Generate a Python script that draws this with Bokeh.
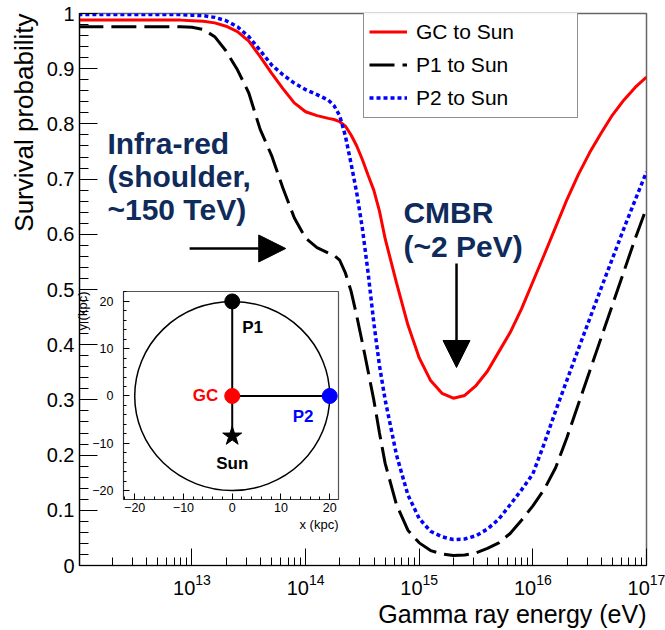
from bokeh.plotting import figure
from bokeh.layouts import column
from bokeh.models import (Range1d, FixedTicker, NumeralTickFormatter, Legend, LegendItem,
                          Arrow, NormalHead, Label, Title)
from bokeh.core.properties import value
from bokeh.embed import file_html
from bokeh.resources import INLINE

FONT = "Liberation Sans"
NAVY = "#0f2b5b"

# log10 of the gamma-ray energy (eV)
log_energy = [12.0, 12.5, 12.9, 13.0, 13.1, 13.2, 13.3, 13.4, 13.5, 13.6, 13.7, 13.8, 13.9,
              14.0, 14.1, 14.2, 14.25, 14.3, 14.35, 14.4, 14.45, 14.5, 14.55, 14.6, 14.65,
              14.7, 14.8, 14.9, 15.0, 15.1, 15.2, 15.3, 15.4, 15.5, 15.6, 15.7, 15.8, 15.9,
              16.0, 16.1, 16.2, 16.3, 16.4, 16.5, 16.6, 16.7, 16.8, 16.9, 17.0]

# survival probability along each line of sight
gc_to_sun = [0.988, 0.988, 0.988, 0.987, 0.986, 0.983, 0.977, 0.967, 0.950, 0.922, 0.892,
             0.864, 0.838, 0.822, 0.815, 0.810, 0.808, 0.804, 0.796, 0.780, 0.760, 0.735,
             0.707, 0.680, 0.642, 0.592, 0.512, 0.436, 0.376, 0.335, 0.312, 0.303, 0.308,
             0.326, 0.352, 0.387, 0.422, 0.465, 0.514, 0.563, 0.613, 0.663, 0.708, 0.748,
             0.783, 0.816, 0.843, 0.866, 0.885]
p1_to_sun = [0.976, 0.976, 0.976, 0.975, 0.971, 0.958, 0.932, 0.898, 0.856, 0.790, 0.743,
             0.684, 0.630, 0.593, 0.576, 0.566, 0.562, 0.553, 0.530, 0.497, 0.452, 0.403,
             0.352, 0.300, 0.240, 0.185, 0.110, 0.064, 0.041, 0.027, 0.021, 0.018, 0.019,
             0.023, 0.031, 0.041, 0.058, 0.082, 0.108, 0.138, 0.177, 0.232, 0.292, 0.352,
             0.412, 0.472, 0.532, 0.592, 0.648]
p2_to_sun = [0.998, 0.998, 0.998, 0.997, 0.996, 0.993, 0.987, 0.976, 0.958, 0.933, 0.907,
             0.889, 0.874, 0.862, 0.853, 0.843, 0.833, 0.815, 0.778, 0.728, 0.675, 0.610,
             0.530, 0.440, 0.362, 0.300, 0.200, 0.128, 0.085, 0.062, 0.052, 0.047, 0.048,
             0.054, 0.066, 0.084, 0.110, 0.137, 0.166, 0.221, 0.280, 0.336, 0.392, 0.447,
             0.502, 0.556, 0.610, 0.662, 0.713]
energy = [10 ** e for e in log_energy]

x_major = [1e13, 1e14, 1e15, 1e16, 1e17]
x_minor = [m * 10.0 ** d for d in range(12, 17) for m in range(2, 10)]
y_major = [round(0.1 * i, 1) for i in range(11)]
y_minor = [round(0.02 * i, 2) for i in range(51)]

# galactic map (kpc)
orbit_radius = 20
site_names = ["GC", "P1", "P2"]
site_x = [0, 0, 20]
site_y = [0, 20, 0]
site_colors = ["#ff0000", "black", "#0000ff"]
sun_x, sun_y = 0, -8.5
map_major = [-20, -10, 0, 10, 20]
map_minor = list(range(-22, 23, 2))

# both panels share the same side borders (the column lines up their frames)
BORDER_L, BORDER_R = 79, 19

# ---------------- main panel ----------------
p = figure(frame_width=567, frame_height=552, x_axis_type="log",
           x_range=Range1d(10 ** 12.01, 1e17), y_range=Range1d(0, 1),
           output_backend="svg", toolbar_location=None,
           min_border_left=BORDER_L, min_border_right=BORDER_R,
           min_border_top=13, min_border_bottom=65)
p.grid.visible = False
p.background_fill_color = "white"
p.border_fill_color = "white"
p.outline_line_color = "#666666"
p.outline_line_width = 1.5

xa = p.xaxis[0]
xa.ticker = FixedTicker(ticks=x_major, minor_ticks=x_minor)
ya = p.yaxis[0]
ya.ticker = FixedTicker(ticks=y_major, minor_ticks=y_minor)
ya.formatter = NumeralTickFormatter(format="0.[0]")
for ax, big, small, off in ((xa, 17, 8, 8), (ya, 18, 9, 5)):
    ax.major_tick_in = big
    ax.major_tick_out = 0
    ax.minor_tick_in = small
    ax.minor_tick_out = 0
    ax.major_tick_line_color = "black"
    ax.minor_tick_line_color = "black"
    ax.axis_line_color = "black"
    ax.axis_line_width = 1.2
    ax.major_label_standoff = off
    ax.major_label_text_font = FONT
    ax.major_label_text_font_size = "20px"
    ax.major_label_text_color = "black"

r_gc = p.line(energy, gc_to_sun, line_color="#ff0000", line_width=3)
r_p1 = p.line(energy, p1_to_sun, line_color="black", line_width=3, line_dash="25 8")
r_p2 = p.line(energy, p2_to_sun, line_color="#0000ff", line_width=3.5, line_dash="4 3")

legend = Legend(items=[LegendItem(label="GC to Sun", renderers=[r_gc]),
                       LegendItem(label="P1 to Sun", renderers=[r_p1]),
                       LegendItem(label="P2 to Sun", renderers=[r_p2])],
                location=(284, 447), margin=0, padding=5, spacing=4,
                label_height=29, glyph_height=29, glyph_width=38, label_standoff=9,
                label_width=156, border_line_color="#222222", border_line_width=1.5,
                label_text_font=FONT, label_text_font_size="21px", label_text_color="black")
p.add_layout(legend)

# annotations
for txt, ly in zip(["Infra-red", "(shoulder,", "~150 TeV)"], [0.765, 0.705, 0.645]):
    p.add_layout(Label(x=10 ** 12.256, y=ly, text=txt, text_font=FONT, text_font_style="bold",
                       text_font_size="30px", text_color=NAVY, text_baseline="alphabetic"))
for txt, ly in zip(["CMBR", "(~2 PeV)"], [0.640, 0.578]):
    p.add_layout(Label(x=10 ** 14.861, y=ly, text=txt, text_font=FONT, text_font_style="bold",
                       text_font_size="30px", text_color=NAVY, text_baseline="alphabetic"))

p.add_layout(Arrow(end=NormalHead(size=27, fill_color="black", line_color="black"),
                   x_start=10 ** 12.979, y_start=0.5743, x_end=10 ** 13.825, y_end=0.5743,
                   line_width=2.5, line_color="black"))
p.add_layout(Arrow(end=NormalHead(size=27, fill_color="black", line_color="black"),
                   x_start=10 ** 15.328, y_start=0.547, x_end=10 ** 15.328, y_end=0.3587,
                   line_width=2.5, line_color="black"))

p.add_layout(Title(text="Gamma ray energy (eV)", align="right", text_font=FONT, standoff=0,
                   text_font_size="25px", text_font_style="normal", text_color="black"), "below")
p.add_layout(Title(text="Survival probability", align="right", text_font=FONT,
                   text_font_size="26px", text_font_style="normal", text_color="black"), "left")

# ---------------- inset map ----------------
m = figure(frame_width=215, frame_height=208, x_range=Range1d(-22.3, 21.8),
           y_range=Range1d(-21.9, 22.1), output_backend="svg", toolbar_location=None,
           min_border_left=BORDER_L, min_border_right=BORDER_R,
           min_border_top=8, min_border_bottom=36,
           styles={"position": "absolute", "left": "44px", "top": "283px"})
m.grid.visible = False
m.background_fill_color = "white"
m.border_fill_color = None
m.outline_line_color = "#555555"
m.outline_line_width = 1.2

minus = {-20: "\u221220", -10: "\u221210"}
for ax, off in ((m.xaxis[0], 3), (m.yaxis[0], 10)):
    ax.ticker = FixedTicker(ticks=map_major, minor_ticks=map_minor)
    ax.major_label_overrides = minus
    ax.major_tick_in = 6
    ax.major_tick_out = 0
    ax.minor_tick_in = 3
    ax.minor_tick_out = 0
    ax.axis_line_color = "#333333"
    ax.major_label_standoff = off
    ax.major_label_text_font = FONT
    ax.major_label_text_font_size = "12.5px"
    ax.major_label_text_color = "black"

m.ellipse(x=[0], y=[0], width=[2 * orbit_radius], height=[2 * orbit_radius],
          fill_color=None, line_color="black", line_width=1.5)
# P1 -> Sun and GC -> P2 sight lines
m.segment(x0=[site_x[1], site_x[0]], y0=[site_y[1], site_y[0]],
          x1=[sun_x, site_x[2]], y1=[sun_y, site_y[2]], line_color="black", line_width=2)
m.scatter(x=site_x, y=site_y, size=15, color=site_colors)
m.scatter(x=[sun_x], y=[sun_y], marker="star", size=20, color="black")

label_font = dict(text_font=value(FONT), text_font_style="bold", text_font_size="17px")
m.text(x=[site_x[0]], y=[site_y[0]], text=[site_names[0]], text_color=site_colors[0],
       text_align="right", text_baseline="middle", x_offset=-14, **label_font)
m.text(x=[site_x[1]], y=[site_y[1]], text=[site_names[1]], text_color=site_colors[1],
       text_align="left", text_baseline="alphabetic", x_offset=10, y_offset=26, **label_font)
m.text(x=[site_x[2]], y=[site_y[2]], text=[site_names[2]], text_color=site_colors[2],
       text_align="left", text_baseline="alphabetic", x_offset=-37, y_offset=21, **label_font)
m.text(x=[sun_x], y=[sun_y], text=["Sun"], text_color="black",
       text_align="center", text_baseline="alphabetic", y_offset=27, **label_font)

m.add_layout(Title(text="x (kpc)", align="right", text_font=FONT, text_font_size="13px",
                   text_font_style="normal", text_color="black", standoff=0), "below")
m.add_layout(Title(text="y (kpc)", align="right", text_font=FONT, text_font_size="13px",
                   text_font_style="normal", text_color="black", standoff=0), "left")

root = column(p, m)
open("out.html", "w").write(file_html(root, INLINE))
